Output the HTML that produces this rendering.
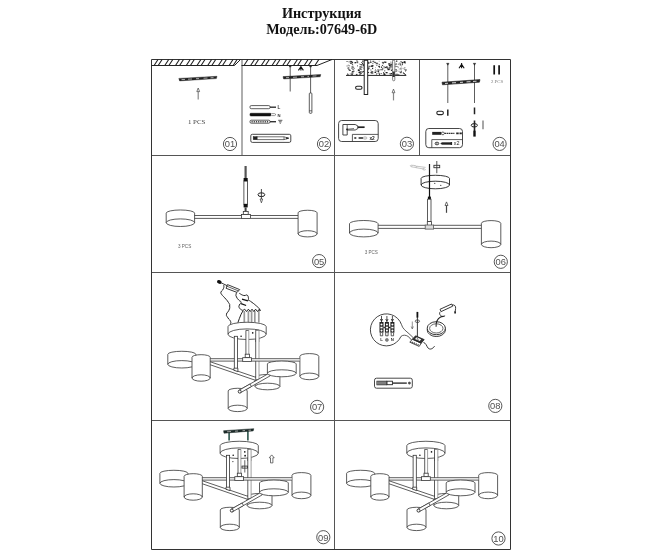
<!DOCTYPE html>
<html><head><meta charset="utf-8">
<style>
html,body{margin:0;padding:0;background:#fff;}
body{width:660px;height:550px;overflow:hidden;position:relative;font-family:"Liberation Serif",serif;}
.t{position:absolute;left:0;width:660px;text-align:center;font-weight:bold;font-size:14.2px;color:#111;line-height:16px;filter:grayscale(1);}
svg{position:absolute;left:0;top:0;}
svg text{filter:grayscale(1);}
</style></head><body>
<div class="t" style="top:5.1px;left:-8.3px">Инструкция</div>
<div class="t" style="top:21.4px;left:-8.3px">Модель:07649-6D</div>
<svg width="660" height="550" viewBox="0 0 660 550" fill="none" stroke="#222" stroke-width="1" font-family="Liberation Sans, sans-serif">
<!-- FRAME -->
<g id="frame" stroke="#333" stroke-width="1">
<path d="M242 60V155" stroke="#aaa" stroke-width="1.9"/>
<path d="M151.5 155.5H510.5M151.5 272.5H510.5M151.5 420.5H510.5M334.5 59.5V549.5M419.5 59.5V155.5" stroke="#555"/>
<path d="M151.5 59.5H510.5V549.5H151.5Z"/>
</g>
<g id="c1"><path d="M151.5 65.5H234.5L240.5 59.5" stroke="#222"/><path d="M154.1 65.5L158.0 59.5M158.2 65.5L162.1 59.5M164.8 65.5L168.7 59.5M168.9 65.5L172.8 59.5M175.5 65.5L179.4 59.5M179.6 65.5L183.5 59.5M186.3 65.5L190.2 59.5M190.4 65.5L194.3 59.5M197.0 65.5L200.9 59.5M201.1 65.5L205.0 59.5M207.7 65.5L211.6 59.5M211.8 65.5L215.7 59.5M218.4 65.5L222.3 59.5M222.5 65.5L226.4 59.5M229.1 65.5L233.0 59.5M233.2 65.5L237.1 59.5" stroke="#222" stroke-width="1.1"/><path d="M178.8 78.4L217 76.3L216.4 78.6L179.6 80.9Z" fill="#222" stroke="#222" stroke-width="0.4"/><path d="M181.5 79.6L185 79.4M188 79.2L192 79M196 78.7L199 78.6M203.5 78.2L207.5 78M210.5 77.8L213.5 77.6" stroke="#ccc" stroke-width="0.8"/><path d="M198.2 91.6V99.6" stroke="#888" stroke-width="1.2"/><path d="M198.2 88L199.6 91.6H196.79999999999998Z" stroke="#444" stroke-width="0.7" fill="#fff" stroke-linejoin="round"/><text x="196.6" y="123.7" text-anchor="middle" font-family="Liberation Serif, serif" font-size="6.9" fill="#444" stroke="none">1 PCS</text><circle cx="230" cy="144" r="6.6" stroke="#444" stroke-width="0.9"/><text x="230" y="147.4" text-anchor="middle" font-size="9.7" fill="#505050" stroke="none" textLength="10.4" lengthAdjust="spacingAndGlyphs">01</text></g>
<g id="c2"><path d="M241.5 65.5H317L332 59.5" stroke="#222"/><path d="M244.0 65.5L247.9 59.5M250.6 65.5L254.5 59.5M254.7 65.5L258.6 59.5M261.3 65.5L265.2 59.5M265.4 65.5L269.3 59.5M272.0 65.5L275.9 59.5M276.1 65.5L280.0 59.5M282.7 65.5L286.6 59.5M286.8 65.5L290.7 59.5M293.5 65.5L297.4 59.5M297.6 65.5L301.5 59.5M304.2 65.5L308.1 59.5M308.3 65.5L312.2 59.5M314.9 65.5L318.8 59.5" stroke="#222" stroke-width="1.1"/><path d="M290.2 66V91.5M310.6 66V93" stroke="#333" stroke-width="0.8"/><path d="M289.2 66.8H291.2L290.2 65.6ZM309.6 66.8H311.6L310.6 65.6Z" fill="#222" stroke="#222" stroke-width="0.6"/><path d="M300.9 65.8V70.4M300.9 66.8L298.4 70.4M300.9 66.8L303.4 70.4" stroke="#111" stroke-width="1.1"/><path d="M283 76.6L320.8 74.5L320.2 76.8L283.6 79Z" fill="#222" stroke="#222" stroke-width="0.4"/><path d="M286 77.7L289 77.5M293 77.3L297 77.1M301 76.8L304 76.7M307.5 76.4L309 76.3M312.5 76.1L316.5 75.9" stroke="#ccc" stroke-width="0.8"/><rect x="309.3" y="93" width="2.6" height="20.3" rx="0.8" fill="#fff" stroke="#333" stroke-width="0.8"/><path d="M309.3 110.8H311.9" stroke="#333" stroke-width="0.7"/><rect x="250" y="105.6" width="20" height="3.1" rx="1.2" fill="#fff" stroke="#333" stroke-width="0.8"/><path d="M270 107.2H276" stroke="#333" stroke-width="1.4"/><text x="277.4" y="109.2" font-size="4.6" font-weight="bold" fill="#333" stroke="none">L</text><rect x="250" y="113.3" width="21" height="2.6" rx="0.8" fill="#111" stroke="#111" stroke-width="0.6"/><path d="M271.3 113.6H274.5L276 114.6L274.5 115.6H271.3" stroke="#555" stroke-width="0.6" fill="#fff"/><text x="277.4" y="116.6" font-size="4.2" font-weight="bold" fill="#333" stroke="none">N</text><rect x="250" y="120.2" width="20" height="3" rx="1.2" fill="#fff" stroke="#333" stroke-width="0.8"/><path d="M251.5 121.7H269" stroke="#444" stroke-width="1.6" stroke-dasharray="1.2 1"/><path d="M270 121.7H276" stroke="#333" stroke-width="1.4"/><path d="M278.2 120.3H282.4M278.9 121.8H281.7M279.7 123.2H280.9" stroke="#333" stroke-width="0.8"/><rect x="250.8" y="134.3" width="40" height="8.1" rx="1.5" fill="#fff" stroke="#333" stroke-width="0.9"/><path d="M257 136.8H284L288.6 138.2L284 139.6H257Z" fill="#fff" stroke="#333" stroke-width="0.7"/><rect x="253.2" y="136.7" width="3.8" height="3" fill="#222" stroke="#222" stroke-width="0.5"/><path d="M284 136.8V139.6M286.5 137.5L288.6 138.2L286.5 138.9Z" stroke="#222" stroke-width="0.6" fill="#222"/><circle cx="324" cy="144" r="6.6" stroke="#444" stroke-width="0.9"/><text x="324" y="147.4" text-anchor="middle" font-size="9.7" fill="#505050" stroke="none" textLength="10.4" lengthAdjust="spacingAndGlyphs">02</text></g>
<g id="c3"><rect x="365.6" y="62.6" width="0.7" height="0.6" fill="#222" stroke="none"/><rect x="352.1" y="68.7" width="2.0" height="0.8" fill="#222" stroke="none"/><rect x="351.6" y="66.4" width="0.9" height="0.6" fill="#222" stroke="none"/><rect x="371.5" y="72.2" width="0.7" height="0.8" fill="#888" stroke="none"/><rect x="383.5" y="73.9" width="2.0" height="1.3" fill="#222" stroke="none"/><rect x="404.1" y="61.2" width="0.9" height="1.0" fill="#666" stroke="none"/><rect x="355.0" y="62.2" width="1.2" height="0.8" fill="#222" stroke="none"/><rect x="380.8" y="69.5" width="1.2" height="0.6" fill="#222" stroke="none"/><rect x="388.5" y="68.5" width="2.0" height="0.8" fill="#666" stroke="none"/><rect x="386.6" y="66.5" width="1.2" height="1.3" fill="#222" stroke="none"/><rect x="401.0" y="65.6" width="0.9" height="0.8" fill="#888" stroke="none"/><rect x="392.5" y="61.7" width="1.2" height="1.3" fill="#444" stroke="none"/><rect x="389.5" y="64.6" width="0.7" height="0.6" fill="#222" stroke="none"/><rect x="371.2" y="71.2" width="0.9" height="1.3" fill="#666" stroke="none"/><rect x="348.8" y="69.9" width="2.0" height="1.0" fill="#444" stroke="none"/><rect x="387.5" y="68.9" width="2.0" height="1.3" fill="#222" stroke="none"/><rect x="396.1" y="73.8" width="1.6" height="0.6" fill="#222" stroke="none"/><rect x="389.6" y="64.9" width="2.0" height="1.3" fill="#444" stroke="none"/><rect x="388.8" y="73.0" width="1.2" height="0.6" fill="#666" stroke="none"/><rect x="367.5" y="69.1" width="1.6" height="0.6" fill="#333" stroke="none"/><rect x="391.8" y="62.3" width="0.9" height="1.3" fill="#666" stroke="none"/><rect x="400.6" y="67.5" width="0.9" height="1.3" fill="#666" stroke="none"/><rect x="378.9" y="73.0" width="1.6" height="1.0" fill="#888" stroke="none"/><rect x="371.0" y="65.6" width="1.6" height="0.8" fill="#333" stroke="none"/><rect x="351.4" y="62.6" width="0.9" height="0.6" fill="#666" stroke="none"/><rect x="395.5" y="63.1" width="1.2" height="0.6" fill="#333" stroke="none"/><rect x="371.2" y="65.7" width="2.0" height="1.0" fill="#333" stroke="none"/><rect x="387.2" y="67.8" width="2.0" height="0.6" fill="#666" stroke="none"/><rect x="399.6" y="71.5" width="2.0" height="1.3" fill="#666" stroke="none"/><rect x="370.0" y="62.0" width="1.6" height="0.6" fill="#333" stroke="none"/><rect x="350.5" y="63.4" width="0.9" height="0.6" fill="#444" stroke="none"/><rect x="381.9" y="61.9" width="2.0" height="0.8" fill="#222" stroke="none"/><rect x="352.5" y="65.6" width="0.7" height="0.6" fill="#333" stroke="none"/><rect x="382.7" y="62.6" width="1.2" height="1.0" fill="#222" stroke="none"/><rect x="368.0" y="62.2" width="1.6" height="1.3" fill="#666" stroke="none"/><rect x="375.0" y="61.7" width="0.7" height="1.0" fill="#888" stroke="none"/><rect x="362.1" y="72.2" width="0.9" height="0.6" fill="#333" stroke="none"/><rect x="402.6" y="67.9" width="0.9" height="0.6" fill="#222" stroke="none"/><rect x="364.1" y="69.6" width="0.7" height="1.0" fill="#222" stroke="none"/><rect x="368.1" y="62.9" width="0.9" height="1.0" fill="#888" stroke="none"/><rect x="359.7" y="71.9" width="0.9" height="0.8" fill="#666" stroke="none"/><rect x="390.2" y="63.7" width="2.0" height="1.3" fill="#444" stroke="none"/><rect x="389.6" y="74.5" width="1.2" height="1.3" fill="#444" stroke="none"/><rect x="357.9" y="69.0" width="1.2" height="1.3" fill="#888" stroke="none"/><rect x="404.8" y="74.0" width="1.2" height="0.6" fill="#333" stroke="none"/><rect x="352.5" y="67.1" width="1.2" height="0.8" fill="#666" stroke="none"/><rect x="383.3" y="73.2" width="0.7" height="1.3" fill="#888" stroke="none"/><rect x="366.8" y="69.6" width="0.7" height="1.3" fill="#888" stroke="none"/><rect x="390.8" y="67.2" width="0.9" height="1.3" fill="#888" stroke="none"/><rect x="366.1" y="71.8" width="1.6" height="1.3" fill="#666" stroke="none"/><rect x="390.4" y="61.7" width="0.9" height="0.8" fill="#333" stroke="none"/><rect x="348.1" y="68.8" width="1.6" height="0.8" fill="#222" stroke="none"/><rect x="395.3" y="74.3" width="1.2" height="0.8" fill="#222" stroke="none"/><rect x="378.8" y="60.8" width="0.7" height="0.8" fill="#666" stroke="none"/><rect x="404.7" y="63.2" width="0.9" height="0.6" fill="#444" stroke="none"/><rect x="359.1" y="67.6" width="2.0" height="1.0" fill="#444" stroke="none"/><rect x="378.6" y="72.3" width="0.7" height="1.0" fill="#666" stroke="none"/><rect x="385.6" y="72.0" width="2.0" height="1.3" fill="#222" stroke="none"/><rect x="354.2" y="62.6" width="2.0" height="0.6" fill="#666" stroke="none"/><rect x="392.3" y="69.1" width="0.9" height="0.8" fill="#333" stroke="none"/><rect x="374.4" y="70.7" width="2.0" height="0.6" fill="#444" stroke="none"/><rect x="386.8" y="68.0" width="1.6" height="0.6" fill="#222" stroke="none"/><rect x="349.9" y="63.2" width="0.7" height="0.6" fill="#222" stroke="none"/><rect x="373.2" y="60.9" width="0.7" height="1.3" fill="#444" stroke="none"/><rect x="382.6" y="67.6" width="2.0" height="0.8" fill="#888" stroke="none"/><rect x="362.9" y="67.7" width="1.6" height="0.8" fill="#888" stroke="none"/><rect x="377.4" y="72.9" width="1.2" height="0.8" fill="#666" stroke="none"/><rect x="354.6" y="62.2" width="1.6" height="1.0" fill="#222" stroke="none"/><rect x="386.1" y="66.5" width="0.9" height="1.0" fill="#222" stroke="none"/><rect x="399.4" y="62.7" width="1.2" height="0.8" fill="#444" stroke="none"/><rect x="398.6" y="74.1" width="0.9" height="0.6" fill="#666" stroke="none"/><rect x="398.7" y="62.8" width="0.9" height="0.8" fill="#888" stroke="none"/><rect x="372.0" y="67.8" width="1.2" height="1.3" fill="#333" stroke="none"/><rect x="367.5" y="61.8" width="1.2" height="0.6" fill="#444" stroke="none"/><rect x="379.2" y="66.7" width="0.7" height="1.3" fill="#444" stroke="none"/><rect x="377.0" y="64.7" width="0.7" height="0.6" fill="#333" stroke="none"/><rect x="403.8" y="62.0" width="1.2" height="1.0" fill="#222" stroke="none"/><rect x="399.9" y="63.1" width="0.9" height="1.3" fill="#888" stroke="none"/><rect x="394.8" y="64.1" width="0.9" height="1.3" fill="#888" stroke="none"/><rect x="365.8" y="64.4" width="0.9" height="1.3" fill="#222" stroke="none"/><rect x="362.4" y="60.7" width="0.7" height="1.0" fill="#222" stroke="none"/><rect x="382.4" y="63.6" width="1.2" height="0.6" fill="#666" stroke="none"/><rect x="347.2" y="74.5" width="1.6" height="1.0" fill="#222" stroke="none"/><rect x="354.1" y="67.9" width="0.9" height="0.6" fill="#333" stroke="none"/><rect x="362.0" y="63.1" width="1.2" height="1.0" fill="#222" stroke="none"/><rect x="391.3" y="64.6" width="2.0" height="0.8" fill="#444" stroke="none"/><rect x="367.0" y="60.8" width="1.2" height="0.6" fill="#222" stroke="none"/><rect x="347.6" y="67.6" width="0.9" height="1.3" fill="#333" stroke="none"/><rect x="401.6" y="62.0" width="1.6" height="1.3" fill="#222" stroke="none"/><rect x="395.7" y="66.0" width="2.0" height="1.0" fill="#888" stroke="none"/><rect x="359.2" y="63.7" width="0.9" height="0.8" fill="#666" stroke="none"/><rect x="404.9" y="74.3" width="0.9" height="0.6" fill="#222" stroke="none"/><rect x="383.4" y="72.9" width="1.6" height="0.8" fill="#222" stroke="none"/><rect x="351.5" y="72.4" width="2.0" height="1.0" fill="#222" stroke="none"/><rect x="360.8" y="64.6" width="1.6" height="0.8" fill="#333" stroke="none"/><rect x="362.4" y="60.6" width="1.2" height="1.0" fill="#222" stroke="none"/><rect x="365.6" y="61.0" width="1.2" height="0.8" fill="#444" stroke="none"/><rect x="357.3" y="65.2" width="0.7" height="1.3" fill="#444" stroke="none"/><rect x="376.2" y="63.3" width="2.0" height="0.6" fill="#222" stroke="none"/><rect x="362.1" y="61.8" width="1.6" height="0.6" fill="#666" stroke="none"/><rect x="347.8" y="64.8" width="0.9" height="0.6" fill="#222" stroke="none"/><rect x="403.0" y="72.5" width="0.9" height="1.3" fill="#444" stroke="none"/><rect x="389.0" y="67.5" width="1.2" height="0.8" fill="#222" stroke="none"/><rect x="395.2" y="70.6" width="2.0" height="1.3" fill="#888" stroke="none"/><rect x="387.9" y="67.6" width="2.0" height="0.6" fill="#888" stroke="none"/><rect x="381.0" y="73.1" width="0.9" height="0.6" fill="#222" stroke="none"/><rect x="349.0" y="69.5" width="0.7" height="1.3" fill="#666" stroke="none"/><rect x="379.5" y="69.4" width="2.0" height="0.8" fill="#666" stroke="none"/><rect x="362.1" y="66.9" width="0.7" height="0.6" fill="#888" stroke="none"/><rect x="377.5" y="71.0" width="1.6" height="1.0" fill="#222" stroke="none"/><rect x="396.4" y="63.8" width="0.9" height="0.8" fill="#888" stroke="none"/><rect x="384.8" y="67.0" width="1.6" height="0.6" fill="#666" stroke="none"/><rect x="400.2" y="64.6" width="0.7" height="0.8" fill="#222" stroke="none"/><rect x="381.9" y="65.2" width="1.2" height="0.8" fill="#222" stroke="none"/><rect x="375.0" y="67.3" width="0.7" height="0.8" fill="#888" stroke="none"/><rect x="375.4" y="70.5" width="1.2" height="1.3" fill="#666" stroke="none"/><rect x="374.0" y="62.2" width="2.0" height="0.8" fill="#444" stroke="none"/><rect x="404.2" y="73.7" width="0.7" height="1.0" fill="#666" stroke="none"/><rect x="351.0" y="67.6" width="1.6" height="1.0" fill="#666" stroke="none"/><rect x="358.9" y="73.8" width="0.9" height="0.6" fill="#222" stroke="none"/><rect x="351.8" y="71.0" width="1.2" height="1.0" fill="#333" stroke="none"/><rect x="382.1" y="69.4" width="1.2" height="0.6" fill="#888" stroke="none"/><rect x="368.0" y="67.5" width="1.6" height="1.3" fill="#222" stroke="none"/><rect x="355.9" y="73.9" width="1.6" height="1.3" fill="#444" stroke="none"/><rect x="389.4" y="66.4" width="1.6" height="1.0" fill="#222" stroke="none"/><rect x="396.1" y="60.5" width="1.2" height="1.3" fill="#222" stroke="none"/><rect x="402.0" y="63.3" width="0.7" height="1.0" fill="#444" stroke="none"/><rect x="368.5" y="66.0" width="2.0" height="0.6" fill="#444" stroke="none"/><rect x="401.1" y="71.2" width="0.7" height="1.0" fill="#222" stroke="none"/><rect x="349.5" y="69.8" width="0.9" height="0.8" fill="#444" stroke="none"/><rect x="372.2" y="64.9" width="1.2" height="1.3" fill="#222" stroke="none"/><rect x="394.4" y="69.4" width="2.0" height="0.8" fill="#888" stroke="none"/><rect x="351.3" y="73.7" width="1.6" height="1.3" fill="#222" stroke="none"/><rect x="390.9" y="69.6" width="1.2" height="1.3" fill="#222" stroke="none"/><rect x="400.3" y="68.3" width="0.9" height="1.3" fill="#666" stroke="none"/><rect x="366.8" y="64.7" width="1.2" height="1.3" fill="#888" stroke="none"/><rect x="360.6" y="67.3" width="1.6" height="0.6" fill="#333" stroke="none"/><rect x="384.4" y="61.6" width="2.0" height="1.3" fill="#222" stroke="none"/><rect x="359.5" y="73.3" width="1.6" height="1.3" fill="#333" stroke="none"/><rect x="378.8" y="63.9" width="0.9" height="1.0" fill="#222" stroke="none"/><rect x="351.9" y="63.9" width="1.2" height="0.8" fill="#222" stroke="none"/><rect x="390.7" y="66.3" width="1.6" height="0.8" fill="#666" stroke="none"/><rect x="362.4" y="71.1" width="1.6" height="1.0" fill="#222" stroke="none"/><rect x="403.6" y="62.3" width="2.0" height="0.8" fill="#222" stroke="none"/><rect x="362.5" y="64.0" width="1.6" height="1.3" fill="#666" stroke="none"/><rect x="402.8" y="72.5" width="0.7" height="0.8" fill="#222" stroke="none"/><rect x="371.6" y="71.3" width="1.6" height="1.3" fill="#222" stroke="none"/><rect x="350.8" y="73.6" width="2.0" height="1.3" fill="#666" stroke="none"/><rect x="361.2" y="62.0" width="0.9" height="0.8" fill="#222" stroke="none"/><rect x="403.8" y="62.0" width="1.6" height="0.6" fill="#222" stroke="none"/><rect x="392.3" y="60.5" width="0.9" height="0.8" fill="#222" stroke="none"/><rect x="400.8" y="69.6" width="1.2" height="0.8" fill="#888" stroke="none"/><rect x="361.4" y="69.5" width="0.7" height="0.6" fill="#222" stroke="none"/><rect x="364.2" y="73.8" width="0.9" height="1.3" fill="#444" stroke="none"/><rect x="359.7" y="69.0" width="0.7" height="1.0" fill="#666" stroke="none"/><rect x="362.9" y="65.0" width="0.9" height="1.3" fill="#222" stroke="none"/><rect x="360.4" y="64.0" width="1.6" height="1.0" fill="#222" stroke="none"/><rect x="347.8" y="67.5" width="1.6" height="0.6" fill="#444" stroke="none"/><rect x="359.9" y="66.5" width="1.2" height="0.8" fill="#666" stroke="none"/><rect x="348.5" y="65.3" width="1.6" height="1.0" fill="#888" stroke="none"/><rect x="369.9" y="60.6" width="1.2" height="0.6" fill="#333" stroke="none"/><rect x="375.7" y="63.3" width="0.9" height="0.8" fill="#666" stroke="none"/><rect x="359.6" y="71.2" width="1.2" height="0.6" fill="#222" stroke="none"/><rect x="375.8" y="63.1" width="0.9" height="1.3" fill="#666" stroke="none"/><rect x="400.2" y="61.3" width="2.0" height="0.8" fill="#666" stroke="none"/><rect x="349.7" y="60.8" width="2.0" height="0.8" fill="#666" stroke="none"/><rect x="349.6" y="61.3" width="1.6" height="1.3" fill="#888" stroke="none"/><rect x="398.6" y="70.8" width="0.7" height="0.8" fill="#444" stroke="none"/><rect x="357.8" y="69.7" width="2.0" height="1.3" fill="#222" stroke="none"/><rect x="364.9" y="70.7" width="1.2" height="1.0" fill="#666" stroke="none"/><rect x="356.5" y="60.5" width="1.2" height="0.6" fill="#444" stroke="none"/><rect x="371.3" y="73.0" width="2.0" height="0.8" fill="#666" stroke="none"/><rect x="367.5" y="72.1" width="1.6" height="0.6" fill="#222" stroke="none"/><rect x="388.1" y="63.3" width="2.0" height="1.3" fill="#333" stroke="none"/><rect x="365.6" y="70.9" width="1.6" height="0.6" fill="#888" stroke="none"/><rect x="370.7" y="71.9" width="1.6" height="0.6" fill="#666" stroke="none"/><rect x="348.6" y="61.4" width="0.7" height="1.0" fill="#333" stroke="none"/><rect x="390.6" y="73.2" width="1.2" height="1.0" fill="#444" stroke="none"/><rect x="366.3" y="73.9" width="0.7" height="1.0" fill="#888" stroke="none"/><rect x="388.8" y="65.0" width="1.2" height="1.0" fill="#222" stroke="none"/><rect x="389.1" y="68.9" width="0.7" height="0.6" fill="#333" stroke="none"/><rect x="352.8" y="70.6" width="1.6" height="1.3" fill="#444" stroke="none"/><rect x="400.4" y="72.0" width="0.9" height="1.3" fill="#333" stroke="none"/><rect x="347.0" y="73.6" width="1.2" height="0.8" fill="#222" stroke="none"/><rect x="360.4" y="72.6" width="1.6" height="1.0" fill="#222" stroke="none"/><rect x="351.2" y="63.3" width="0.9" height="0.8" fill="#666" stroke="none"/><rect x="350.3" y="61.0" width="2.0" height="1.0" fill="#333" stroke="none"/><rect x="404.3" y="73.0" width="0.7" height="1.0" fill="#222" stroke="none"/><rect x="351.5" y="61.9" width="1.6" height="1.3" fill="#333" stroke="none"/><rect x="360.3" y="66.4" width="2.0" height="0.8" fill="#888" stroke="none"/><rect x="378.3" y="71.4" width="0.7" height="1.0" fill="#444" stroke="none"/><rect x="363.0" y="64.3" width="1.2" height="1.0" fill="#333" stroke="none"/><rect x="372.4" y="63.1" width="0.9" height="0.8" fill="#444" stroke="none"/><rect x="398.7" y="68.7" width="1.2" height="0.6" fill="#666" stroke="none"/><rect x="361.3" y="64.0" width="2.0" height="0.8" fill="#888" stroke="none"/><rect x="394.2" y="69.7" width="0.7" height="0.6" fill="#222" stroke="none"/><rect x="374.5" y="72.0" width="1.6" height="1.0" fill="#222" stroke="none"/><rect x="398.2" y="63.8" width="0.7" height="0.8" fill="#222" stroke="none"/><rect x="403.9" y="68.7" width="0.7" height="1.0" fill="#222" stroke="none"/><rect x="397.6" y="66.8" width="1.2" height="0.6" fill="#222" stroke="none"/><rect x="384.1" y="70.5" width="1.2" height="0.8" fill="#222" stroke="none"/><rect x="368.3" y="62.5" width="0.9" height="1.0" fill="#222" stroke="none"/><rect x="381.9" y="69.7" width="0.9" height="0.6" fill="#444" stroke="none"/><rect x="370.6" y="65.7" width="2.0" height="1.0" fill="#222" stroke="none"/><rect x="358.5" y="71.7" width="2.0" height="1.3" fill="#222" stroke="none"/><rect x="370.6" y="71.7" width="2.0" height="0.8" fill="#888" stroke="none"/><rect x="378.0" y="69.7" width="1.6" height="1.0" fill="#666" stroke="none"/><rect x="404.8" y="69.9" width="1.6" height="0.6" fill="#444" stroke="none"/><rect x="390.5" y="73.0" width="1.6" height="1.3" fill="#222" stroke="none"/><rect x="397.5" y="74.6" width="1.2" height="0.8" fill="#666" stroke="none"/><rect x="389.5" y="63.4" width="0.7" height="1.3" fill="#333" stroke="none"/><rect x="371.5" y="72.1" width="1.6" height="1.0" fill="#666" stroke="none"/><rect x="392.1" y="62.3" width="0.7" height="0.8" fill="#888" stroke="none"/><rect x="394.1" y="66.1" width="2.0" height="1.0" fill="#888" stroke="none"/><rect x="376.3" y="62.6" width="1.2" height="0.8" fill="#222" stroke="none"/><rect x="356.6" y="61.4" width="1.6" height="1.3" fill="#333" stroke="none"/><rect x="364.3" y="72.3" width="0.7" height="1.3" fill="#444" stroke="none"/><rect x="349.6" y="73.6" width="1.6" height="0.6" fill="#888" stroke="none"/><rect x="383.1" y="72.1" width="0.9" height="0.8" fill="#222" stroke="none"/><rect x="370.4" y="72.4" width="1.6" height="0.8" fill="#222" stroke="none"/><rect x="359.4" y="66.1" width="2.0" height="0.8" fill="#666" stroke="none"/><rect x="367.7" y="62.6" width="0.9" height="0.6" fill="#222" stroke="none"/><rect x="396.2" y="70.0" width="1.2" height="0.6" fill="#666" stroke="none"/><rect x="381.9" y="68.3" width="1.2" height="1.3" fill="#444" stroke="none"/><rect x="380.9" y="66.5" width="1.2" height="1.3" fill="#222" stroke="none"/><rect x="372.4" y="60.8" width="2.0" height="1.3" fill="#666" stroke="none"/><rect x="360.4" y="71.3" width="1.6" height="0.8" fill="#666" stroke="none"/><rect x="370.1" y="61.4" width="1.2" height="1.3" fill="#444" stroke="none"/><rect x="351.9" y="66.7" width="2.0" height="0.6" fill="#222" stroke="none"/><rect x="384.0" y="61.7" width="1.2" height="0.6" fill="#222" stroke="none"/><rect x="390.9" y="73.1" width="0.9" height="0.6" fill="#222" stroke="none"/><rect x="405.3" y="70.8" width="0.7" height="0.8" fill="#333" stroke="none"/><rect x="404.4" y="67.4" width="0.9" height="0.8" fill="#222" stroke="none"/><rect x="395.6" y="69.1" width="1.2" height="0.8" fill="#444" stroke="none"/><rect x="399.4" y="64.4" width="1.6" height="0.8" fill="#444" stroke="none"/><rect x="376.1" y="73.5" width="0.9" height="1.0" fill="#222" stroke="none"/><rect x="376.4" y="65.0" width="0.7" height="0.8" fill="#333" stroke="none"/><rect x="370.3" y="69.5" width="1.2" height="1.0" fill="#666" stroke="none"/><rect x="356.5" y="71.6" width="0.7" height="0.6" fill="#888" stroke="none"/><rect x="397.1" y="74.1" width="1.6" height="0.6" fill="#444" stroke="none"/><rect x="405.1" y="69.4" width="1.6" height="1.0" fill="#444" stroke="none"/><rect x="368.7" y="65.7" width="0.9" height="1.0" fill="#444" stroke="none"/><rect x="391.6" y="66.7" width="0.9" height="0.6" fill="#444" stroke="none"/><rect x="394.9" y="64.1" width="2.0" height="1.0" fill="#888" stroke="none"/><rect x="346.6" y="61.0" width="0.9" height="1.0" fill="#222" stroke="none"/><rect x="383.4" y="66.4" width="1.2" height="0.6" fill="#333" stroke="none"/><rect x="375.3" y="69.1" width="0.7" height="0.6" fill="#222" stroke="none"/><rect x="346.7" y="65.5" width="0.7" height="1.0" fill="#222" stroke="none"/><rect x="359.7" y="68.7" width="2.0" height="0.8" fill="#333" stroke="none"/><rect x="368.1" y="72.2" width="0.9" height="0.8" fill="#222" stroke="none"/><rect x="401.8" y="63.9" width="0.9" height="1.3" fill="#222" stroke="none"/><rect x="350.3" y="62.5" width="1.2" height="1.3" fill="#444" stroke="none"/><rect x="403.6" y="61.3" width="2.0" height="1.0" fill="#222" stroke="none"/><rect x="384.6" y="66.8" width="2.0" height="1.3" fill="#333" stroke="none"/><rect x="356.2" y="60.5" width="0.7" height="0.6" fill="#666" stroke="none"/><rect x="357.5" y="62.7" width="0.7" height="0.6" fill="#222" stroke="none"/><rect x="379.0" y="73.8" width="0.9" height="1.3" fill="#333" stroke="none"/><rect x="377.1" y="69.6" width="1.6" height="0.8" fill="#222" stroke="none"/><rect x="364.8" y="64.7" width="0.7" height="1.3" fill="#888" stroke="none"/><rect x="378.3" y="65.8" width="1.6" height="1.3" fill="#222" stroke="none"/><path d="M346 75.4H406.3" stroke="#222" stroke-width="1"/><rect x="364.2" y="60.3" width="3.5" height="34.2" fill="#fff" stroke="#222" stroke-width="1"/><rect x="355.6" y="86.3" width="6.4" height="3" rx="1.5" fill="#fff" stroke="#222" stroke-width="1.1"/><rect x="392.6" y="60.3" width="2.2" height="20.5" rx="1" fill="#fff" stroke="#555" stroke-width="0.7"/><rect x="392.6" y="71.5" width="2.2" height="5.5" fill="#333" stroke="none"/><path d="M393.5 92.69999999999999V100.4" stroke="#888" stroke-width="1.2"/><path d="M393.5 89.1L394.9 92.69999999999999H392.1Z" stroke="#444" stroke-width="0.7" fill="#fff" stroke-linejoin="round"/><rect x="338.6" y="120.5" width="39.6" height="21" rx="3" fill="#fff" stroke="#333" stroke-width="0.9"/><path d="M352.4 141.5V134.4H378.2" stroke="#333" stroke-width="0.8"/><path d="M342.9 124.5H355.2L357.8 125.9V128.6L355.2 130H347.2V135H342.9Z" fill="#fff" stroke="#333" stroke-width="0.9"/><path d="M347.2 124.5V130M346.4 129.4L354 128.6" stroke="#444" stroke-width="0.8"/><rect x="346.3" y="128.6" width="1.6" height="1.6" fill="#222" stroke="none"/><path d="M357.8 127.2H364.6" stroke="#222" stroke-width="1.7"/><path d="M354.3 138H356.3M358.6 138H363" stroke="#222" stroke-width="1.7"/><rect x="363.2" y="136.8" width="3.6" height="2.4" rx="1" fill="#ddd" stroke="#999" stroke-width="0.5"/><text x="369.4" y="139.8" font-size="4.8" font-weight="bold" fill="#222" stroke="none">x2</text><circle cx="406.9" cy="143.8" r="6.6" stroke="#444" stroke-width="0.9"/><text x="406.9" y="147.20000000000002" text-anchor="middle" font-size="9.7" fill="#505050" stroke="none" textLength="10.4" lengthAdjust="spacingAndGlyphs">03</text></g>
<g id="c4"><path d="M447.8 64V103M474.5 64V103" stroke="#333" stroke-width="0.8"/><path d="M446.6 63.3H449L447.8 65.2ZM473.3 63.3H475.7L474.5 65.2Z" fill="#222" stroke="#222" stroke-width="0.5"/><path d="M461.6 63V68.2M461.6 64.4L459 68.2M461.6 64.4L464.2 68.2" stroke="#111" stroke-width="1.1"/><path d="M442 82.2L480 79.6L479.4 82.2L442.5 84.8Z" fill="#222" stroke="#222" stroke-width="0.6"/><path d="M445 83.4L448 83.2M452 82.9L456 82.7M460 82.4L463 82.2M466.5 81.9L470.5 81.7M473 81.4L476.5 81.2" stroke="#ddd" stroke-width="1.0"/><path d="M494.2 65.3V74.4M499.1 65.3V74.4" stroke="#111" stroke-width="1.7"/><text x="497" y="82.8" text-anchor="middle" font-family="Liberation Serif, serif" font-size="4.8" fill="#777" stroke="none">2 PCS</text><path d="M447.8 109.5V115.7M474.5 107.5V114.3" stroke="#222" stroke-width="1.5"/><rect x="436.8" y="111.3" width="6.6" height="3.3" rx="1.6" fill="#fff" stroke="#222" stroke-width="1.1"/><path d="M474.5 120.5V131" stroke="#222" stroke-width="1.6"/><ellipse cx="474.3" cy="125.3" rx="3.1" ry="1.7" stroke="#222" stroke-width="1"/><path d="M474.5 130.7V136.6" stroke="#111" stroke-width="2.4"/><path d="M483 120.5V129.3" stroke="#888" stroke-width="1.5"/><rect x="425.8" y="128.5" width="36.7" height="19.2" rx="3" fill="#fff" stroke="#333" stroke-width="0.9"/><path d="M431.8 147.7V139.6H462.5" stroke="#333" stroke-width="0.8"/><rect x="432.2" y="131.9" width="9.1" height="2.9" fill="#222" stroke="none"/><path d="M441.3 133.35L442.2 132H443.5L444.4 133.35L443.5 134.7H442.2Z" fill="#fff" stroke="#222" stroke-width="0.7"/><path d="M444.4 133.35H454.4" stroke="#333" stroke-width="1.4" stroke-dasharray="1.7 0.5"/><path d="M456.2 133.35H458.7M459.5 133.35H461.8" stroke="#222" stroke-width="1.9"/><rect x="435.2" y="142.3" width="3.5" height="2.4" rx="1.1" fill="#fff" stroke="#222" stroke-width="0.9"/><path d="M436.9 142.3V144.7" stroke="#222" stroke-width="0.7"/><path d="M440.6 143.5L442 142.6H451V144.4H442Z" fill="#222" stroke="#222" stroke-width="0.4"/><path d="M451.4 142V145" stroke="#222" stroke-width="1.4"/><text x="453.8" y="145.1" font-size="5.4" fill="#222" stroke="none">x2</text><circle cx="499.6" cy="143.9" r="6.6" stroke="#444" stroke-width="0.9"/><text x="499.6" y="147.3" text-anchor="middle" font-size="9.7" fill="#505050" stroke="none" textLength="10.4" lengthAdjust="spacingAndGlyphs">04</text></g>
<g id="c5"><path d="M166.2 213.1A14.2 3.12 0 0 1 194.6 213.1V222.7A14.2 3.8 0 0 1 166.2 222.7Z" fill="#fff" stroke="#333" stroke-width="0.8"/><path d="M166.2 222.7A14.2 3.8 0 0 1 194.6 222.7" stroke="#333" stroke-width="0.8"/><path d="M194.5 215.5H241.5M194.5 218.4H241.5M250.5 215.5H298.2M250.5 218.4H298.2" stroke="#333" stroke-width="0.8"/><path d="M298.1 212.8A9.5 2.54 0 0 1 317.1 212.8V233.8A9.5 3.1 0 0 1 298.1 233.8Z" fill="#fff" stroke="#333" stroke-width="0.8"/><path d="M298.1 233.8A9.5 3.1 0 0 1 317.1 233.8" stroke="#333" stroke-width="0.8"/><path d="M245.6 166V178.2" stroke="#555" stroke-width="2.2"/><rect x="243.9" y="181" width="3.5" height="23.2" fill="#fff" stroke="#333" stroke-width="0.8"/><rect x="243.6" y="178" width="4.1" height="3.2" fill="#111" stroke="none"/><rect x="243.6" y="204" width="4.1" height="3.4" fill="#111" stroke="none"/><path d="M245.6 207.4V211.5" stroke="#444" stroke-width="2"/><rect x="243.3" y="211.5" width="4.9" height="3" fill="#fff" stroke="#333" stroke-width="0.8"/><rect x="241.4" y="214.5" width="9.1" height="3.9" fill="#fff" stroke="#333" stroke-width="0.8"/><path d="M261.4 189V199" stroke="#333" stroke-width="0.9"/><ellipse cx="261.4" cy="194.7" rx="3.4" ry="1.9" stroke="#222" stroke-width="1"/><path d="M260.1 199H262.7L261.4 202.8Z" fill="#fff" stroke="#333" stroke-width="0.7" stroke-linejoin="round"/><text x="184.6" y="247.8" text-anchor="middle" font-size="4.6" fill="#666" stroke="none">3 PCS</text><circle cx="319.1" cy="261.1" r="6.6" stroke="#444" stroke-width="0.9"/><text x="319.1" y="264.5" text-anchor="middle" font-size="9.7" fill="#505050" stroke="none" textLength="10.4" lengthAdjust="spacingAndGlyphs">05</text></g>
<g id="c6"><path d="M349.5 223.7A14.3 3.20 0 0 1 378.1 223.7V233.0A14.3 3.9 0 0 1 349.5 233.0Z" fill="#fff" stroke="#333" stroke-width="0.8"/><path d="M349.5 233.0A14.3 3.9 0 0 1 378.1 233.0" stroke="#333" stroke-width="0.8"/><path d="M378.2 225.3H425.3M378.2 228.4H425.3M433.6 225.3H481.4M433.6 228.4H481.4" stroke="#333" stroke-width="0.8"/><path d="M481.4 223.3A9.7 2.71 0 0 1 500.8 223.3V244.4A9.7 3.3 0 0 1 481.4 244.4Z" fill="#fff" stroke="#333" stroke-width="0.8"/><path d="M481.4 244.4A9.7 3.3 0 0 1 500.8 244.4" stroke="#333" stroke-width="0.8"/><path d="M421.1 178.4A14.2 3.12 0 0 1 449.5 178.4V185.0A14.2 3.8 0 0 1 421.1 185.0Z" fill="#fff" stroke="#222" stroke-width="0.9"/><path d="M421.1 185.0A14.2 3.8 0 0 1 449.5 185.0" stroke="#222" stroke-width="0.9"/><circle cx="434.8" cy="183.3" r="0.6" fill="#222" stroke="none"/><circle cx="440.8" cy="185.3" r="0.6" fill="#222" stroke="none"/><path d="M429.5 164V197" stroke="#111" stroke-width="1.2"/><rect x="427.9" y="196.6" width="3" height="2.6" fill="#111" stroke="none"/><rect x="427.6" y="199.2" width="3.4" height="22.4" fill="#fff" stroke="#333" stroke-width="0.8"/><rect x="427.3" y="221.6" width="4.2" height="3.8" fill="#fff" stroke="#333" stroke-width="0.8"/><rect x="425.2" y="225" width="8.4" height="4.1" fill="#ddd" stroke="#555" stroke-width="0.8"/><ellipse cx="413.6" cy="166.3" rx="3.4" ry="0.9" transform="rotate(8 413.6 166.3)" stroke="#aaa" stroke-width="0.7" fill="#fff"/><path d="M416.6 166.2L425.6 167.4M415.6 167.6L423.8 169M423 168L425.8 169.8M422.4 169.2L424.6 170.4" stroke="#aaa" stroke-width="0.7"/><path d="M436.8 161V173.2" stroke="#555" stroke-width="1"/><rect x="433.9" y="165.3" width="5.8" height="2.4" fill="none" stroke="#333" stroke-width="0.9"/><path d="M446.5 205.5V212.8" stroke="#444" stroke-width="1.2"/><path d="M446.5 201.9L448.0 205.5H445.0Z" stroke="#333" stroke-width="0.7" fill="#fff" stroke-linejoin="round"/><text x="371.3" y="253.8" text-anchor="middle" font-size="4.6" fill="#666" stroke="none">3 PCS</text><circle cx="500.8" cy="261.8" r="6.6" stroke="#444" stroke-width="0.9"/><text x="500.8" y="265.2" text-anchor="middle" font-size="9.7" fill="#505050" stroke="none" textLength="10.4" lengthAdjust="spacingAndGlyphs">06</text></g>
<g id="c7"><path d="M244.3 311V322.5M248.4 311V322.5M251.6 311V322.5M254.8 311V322.5M258.8 311V322.5" stroke="#999" stroke-width="1.7"/><path d="M223.8 285.1C223.7 286.3 224.3 286.4 223.4 288.7C222.5 291.0 221.7 290.1 221.1 291.9C220.5 293.7 220.3 292.2 221.5 294.2C222.7 296.2 222.4 295.1 224.7 297.8C227.0 300.5 226.7 299.7 228.4 302.4C230.1 305.1 229.6 303.3 229.7 306.0C229.8 308.7 229.9 307.8 228.8 310.5C227.7 313.2 226.8 311.8 226.5 314.2C226.2 316.6 226.5 315.4 227.9 317.8C229.3 320.2 229.8 319.4 230.6 321.5C231.4 323.6 230.3 323.3 230.2 324.2" stroke="#222" stroke-width="1" stroke-linejoin="round"/><path d="M237.0 292.4C236.7 293.0 236.3 292.7 236.1 294.2C235.9 295.7 235.6 294.9 236.5 296.9C237.4 298.9 237.3 298.3 238.8 300.1C240.3 301.9 240.9 300.7 241.1 302.4C241.3 304.1 239.8 303.1 239.3 305.1C238.8 307.1 238.5 306.5 239.7 308.3C240.9 310.1 241.8 309.8 242.9 310.5" stroke="#222" stroke-width="1" stroke-linejoin="round"/><path d="M242.9 311.0L241.1 314.2L239.3 318.7L237.9 322.6" stroke="#222" stroke-width="1" stroke-linejoin="round"/><path d="M239.3 293.3C240.7 294.0 241.5 295.0 243.8 295.5C246.1 296.0 245.6 294.4 247.0 295.1C248.4 295.8 248.0 296.3 248.4 297.8C248.8 299.3 248.1 299.3 248.4 300.1C248.7 300.9 248.2 299.8 249.3 300.5C250.4 301.2 249.8 300.8 252.0 302.4C254.2 304.0 254.3 304.1 256.5 306.0C258.7 307.9 258.2 307.2 259.3 308.7C260.4 310.2 259.9 310.3 260.2 311.0" stroke="#222" stroke-width="1" stroke-linejoin="round"/><path d="M242.9 310.5L244.7 309.2L246.5 311.5L248.4 309.2L250.2 311.5L252.0 309.2L253.8 311.5L255.6 309.2L257.5 311.5L259.3 309.2L260.2 311.0" stroke="#222" stroke-width="1" stroke-linejoin="round"/><path d="M242 299.2L247.9 300.9M241.1 303.7L246.1 305.5" stroke="#111" stroke-width="1.3"/><path d="M227.5 284.6L239.7 289.6L237 292.4L226.1 288.3Z" fill="#fff" stroke="#222" stroke-width="0.9" stroke-linejoin="round"/><path d="M226.6 286.1L238.4 290.9" stroke="#222" stroke-width="0.7"/><path d="M221.1 282.8L227 285.6" stroke="#222" stroke-width="0.9"/><ellipse cx="219.3" cy="281.9" rx="2.4" ry="1.8" fill="#111" stroke="none" transform="rotate(25 219.3 281.9)"/><g stroke="#333" stroke-width="0.8"><path d="M167.8 354.3A14.0 3.03 0 0 1 195.8 354.3V364.3A14.0 3.7 0 0 1 167.8 364.3Z" fill="#fff" /><path d="M167.8 364.3A14.0 3.7 0 0 1 195.8 364.3" /><path d="M299.9 356.3A9.45 2.71 0 0 1 318.8 356.3V376.4A9.45 3.3 0 0 1 299.9 376.4Z" fill="#fff" /><path d="M299.9 376.4A9.45 3.3 0 0 1 318.8 376.4" /><path d="M255.1 377.2A12.4 2.71 0 0 1 279.9 377.2V386.5A12.4 3.3 0 0 1 255.1 386.5Z" fill="#fff" /><path d="M255.1 386.5A12.4 3.3 0 0 1 279.9 386.5" /><path d="M208 361L257.2 377.8L256.3 380.6L208 364Z" fill="#fff"/><rect x="255.7" y="329.8" width="3.3" height="50" fill="#fff" stroke="none"/><path d="M255.7 329.8V379.8H259"/><path d="M259 329.8V379.8" stroke="#888"/><rect x="196" y="358.7" width="47" height="2.4" fill="#fff" stroke="none"/><rect x="251.5" y="358.7" width="48" height="2.4" fill="#fff" stroke="none"/><path d="M196 358.7H243M196 361.1H243M251.5 358.7H299.8M251.5 361.1H299.8"/><path d="M238.9 390.3L268.8 373.4L270.2 375.8L240.4 392.8Z" fill="#fff"/><path d="M267.4 363.9A14.4 2.87 0 0 1 296.2 363.9V373.3A14.4 3.5 0 0 1 267.4 373.3Z" fill="#fff" /><path d="M267.4 373.3A14.4 3.5 0 0 1 296.2 373.3" /><path d="M192.0 357.3A9.1 2.62 0 0 1 210.2 357.3V378.0A9.1 3.2 0 0 1 192.0 378.0Z" fill="#fff" /><path d="M192.0 378.0A9.1 3.2 0 0 1 210.2 378.0" /><path d="M228.0 326.6A19.1 4.35 0 0 1 266.2 326.6V334.2A19.1 5.3 0 0 1 228.0 334.2Z" fill="#fff" /><path d="M228.0 334.2A19.1 5.3 0 0 1 266.2 334.2" /><rect x="255.7" y="330" width="3.3" height="12" fill="#fff" stroke="none"/><path d="M255.7 342V330.2H259"/><path d="M259 330.2V342" stroke="#888"/><rect x="245.9" y="330.4" width="2.9" height="24" fill="#fff" stroke="none"/><path d="M245.9 354.4V330.4H248.8"/><path d="M248.8 330.4V354.4" stroke="#888"/><rect x="234.3" y="336.3" width="3.2" height="33.6" fill="#fff"/><path d="M233.9 368.2H237.9V371.6L233.9 370.3Z" fill="#fff"/><rect x="245.2" y="354.2" width="4.2" height="3.5" fill="#fff"/><rect x="242.7" y="357.7" width="8.8" height="3.7" fill="#fff"/><circle cx="241.1" cy="336.3" r="0.8" fill="#111" stroke="none"/><circle cx="252.7" cy="332.9" r="0.8" fill="#111" stroke="none"/><path d="M228.2 390.9A9.5 2.62 0 0 1 247.2 390.9V408.4A9.5 3.2 0 0 1 228.2 408.4Z" fill="#fff" /><path d="M228.2 408.4A9.5 3.2 0 0 1 247.2 408.4" /><path d="M238.9 390.3L250 384L251.4 386.5L240.4 392.8" fill="#fff"/><circle cx="239.7" cy="391.6" r="1.5" fill="#fff" stroke="#222" stroke-width="0.9"/></g><circle cx="317.1" cy="406.9" r="6.6" stroke="#444" stroke-width="0.9"/><text x="317.1" y="410.29999999999995" text-anchor="middle" font-size="9.7" fill="#505050" stroke="none" textLength="10.4" lengthAdjust="spacingAndGlyphs">07</text></g>
<g id="c8"><path d="M401.5 324.6A16 16 0 1 0 401 336.4" stroke="#333" stroke-width="0.9"/><path d="M381.5 316V322M380.3 319L381.5 321.2L382.7 319" stroke="#222" stroke-width="0.8"/><rect x="379.5" y="322" width="4" height="10.6" fill="#222" stroke="none"/><rect x="380.4" y="326.7" width="2.2" height="1.7" fill="#fff" stroke="none"/><circle cx="381.5" cy="324.5" r="1.05" fill="#fff" stroke="none"/><circle cx="381.5" cy="330.6" r="1.05" fill="#fff" stroke="none"/><path d="M380.3 332.6V335.8H382.7V332.6" fill="none" stroke="#333" stroke-width="0.8"/><path d="M386.9 316V322M385.7 319L386.9 321.2L388.09999999999997 319" stroke="#222" stroke-width="0.8"/><rect x="384.9" y="322" width="4" height="10.6" fill="#222" stroke="none"/><rect x="385.79999999999995" y="326.7" width="2.2" height="1.7" fill="#fff" stroke="none"/><circle cx="386.9" cy="324.5" r="1.05" fill="#fff" stroke="none"/><circle cx="386.9" cy="330.6" r="1.05" fill="#fff" stroke="none"/><path d="M385.7 332.6V335.8H388.09999999999997V332.6" fill="none" stroke="#333" stroke-width="0.8"/><path d="M392.4 316V322M391.2 319L392.4 321.2L393.59999999999997 319" stroke="#222" stroke-width="0.8"/><rect x="390.4" y="322" width="4" height="10.6" fill="#222" stroke="none"/><rect x="391.29999999999995" y="326.7" width="2.2" height="1.7" fill="#fff" stroke="none"/><circle cx="392.4" cy="324.5" r="1.05" fill="#fff" stroke="none"/><circle cx="392.4" cy="330.6" r="1.05" fill="#fff" stroke="none"/><path d="M391.2 332.6V335.8H393.59999999999997V332.6" fill="none" stroke="#333" stroke-width="0.8"/><path d="M383.5 327.5H384.9M388.9 327.5H390.4" stroke="#222" stroke-width="1.6"/><text x="381.5" y="341.4" text-anchor="middle" font-size="4.3" font-weight="bold" fill="#333" stroke="none">L</text><circle cx="386.9" cy="339.9" r="1.5" fill="#bbb" stroke="#555" stroke-width="0.6"/><path d="M385.9 339.9H387.9M386.9 339V340.8" stroke="#444" stroke-width="0.5"/><text x="392.4" y="341.4" text-anchor="middle" font-size="4.3" font-weight="bold" fill="#333" stroke="none">N</text><path d="M401.5 324.6C402.5 328.5 405.5 330.6 408 332.8C410 334.6 412 336.4 413.5 338M401 336.4C403 334.6 406 335 408 336.4C409.5 337.4 410.5 338.8 411.5 340" stroke="#333" stroke-width="0.8"/><path d="M409.8 342.2L412.4 339.2L421.2 343.2L419.2 346.4Z" fill="#fff" stroke="#222" stroke-width="0.8" stroke-linejoin="round"/><path d="M411.6 342L418.6 345" stroke="#222" stroke-width="1.1" stroke-dasharray="1.3 0.9"/><path d="M412.4 339.2L415.6 335.8L424.2 339.6L421.2 343.2Z" fill="#333" stroke="#222" stroke-width="0.8" stroke-linejoin="round"/><path d="M415 338.9L416.7 337.2L421.2 339.3L419.7 341.1Z" fill="#fff" stroke="none"/><path d="M417.2 338.1L418.4 340.4" stroke="#333" stroke-width="0.7"/><path d="M417.4 311.9V317.6" stroke="#111" stroke-width="1.8"/><path d="M417.4 317V337" stroke="#222" stroke-width="0.9"/><ellipse cx="417.4" cy="321.2" rx="2.2" ry="1.3" stroke="#333" stroke-width="0.7"/><path d="M412.3 321.5V328.6M411.2 326.5L412.3 329L413.4 326.5" stroke="#666" stroke-width="0.7"/><path d="M423.5 342.5C426 343 426.5 346 428 348C430 350 432.5 349 434.6 346.2" stroke="#222" stroke-width="0.9"/><ellipse cx="436.3" cy="329.9" rx="9.1" ry="6.6" fill="#fff" stroke="#222" stroke-width="0.9"/><ellipse cx="436.3" cy="328.2" rx="9.1" ry="6.5" fill="#fff" stroke="#222" stroke-width="0.9"/><ellipse cx="436.3" cy="328.4" rx="6.7" ry="4.6" stroke="#444" stroke-width="0.8"/><path d="M436.1 326.8C435.8 322 437.8 318.6 440.6 317C442.6 316 444.6 316.8 444.8 315.6" stroke="#222" stroke-width="1.1"/><path d="M440.2 311.8C439 313 439.5 315.6 441.5 315.8" stroke="#222" stroke-width="0.8"/><path d="M440 309.3L451.6 304L452.7 306.2L441.1 311.6Z" fill="#fff" stroke="#222" stroke-width="0.9"/><path d="M452 305C454.5 304.5 456 306 455.6 308.5L455.2 311.5" stroke="#222" stroke-width="0.9"/><path d="M455.1 311.3V313.6" stroke="#111" stroke-width="1.6"/><rect x="374.5" y="378.2" width="37.8" height="10" rx="2" fill="#fff" stroke="#333" stroke-width="0.9"/><rect x="376.8" y="381" width="10" height="4" fill="#555" stroke="#333" stroke-width="0.5"/><path d="M377 382.2H386.6M377 383.8H386.6" stroke="#ccc" stroke-width="0.5"/><rect x="387" y="381.2" width="5.4" height="3.5" fill="#fff" stroke="#222" stroke-width="0.9"/><path d="M392.7 383.1H406.8" stroke="#222" stroke-width="1.3"/><circle cx="409.4" cy="383.1" r="1.1" fill="#555" stroke="#222" stroke-width="0.5"/><circle cx="495.3" cy="405.9" r="6.6" stroke="#444" stroke-width="0.9"/><text x="495.3" y="409.29999999999995" text-anchor="middle" font-size="9.7" fill="#505050" stroke="none" textLength="10.4" lengthAdjust="spacingAndGlyphs">08</text></g>
<g id="c9"><path d="M229.1 432V440.5M247.9 431V440.5" stroke="#1f4a40" stroke-width="1.5"/><path d="M223.6 430.7L253.8 428.7L253.2 430.9L224 433.2Z" fill="#1c2a28" stroke="#1c2a28" stroke-width="0.5"/><path d="M227 431.8L231 431.5M235 431.2L238 431M242.5 430.7L245 430.5M248.5 430.3L251 430.1" stroke="#bbb" stroke-width="0.8"/><g transform="translate(-7.9 119)" stroke="#333" stroke-width="0.8"><path d="M167.8 354.3A14.0 3.03 0 0 1 195.8 354.3V364.3A14.0 3.7 0 0 1 167.8 364.3Z" fill="#fff" /><path d="M167.8 364.3A14.0 3.7 0 0 1 195.8 364.3" /><path d="M299.9 356.3A9.45 2.71 0 0 1 318.8 356.3V376.4A9.45 3.3 0 0 1 299.9 376.4Z" fill="#fff" /><path d="M299.9 376.4A9.45 3.3 0 0 1 318.8 376.4" /><path d="M255.1 377.2A12.4 2.71 0 0 1 279.9 377.2V386.5A12.4 3.3 0 0 1 255.1 386.5Z" fill="#fff" /><path d="M255.1 386.5A12.4 3.3 0 0 1 279.9 386.5" /><path d="M208 361L257.2 377.8L256.3 380.6L208 364Z" fill="#fff"/><rect x="255.7" y="329.8" width="3.3" height="50" fill="#fff" stroke="none"/><path d="M255.7 329.8V379.8H259"/><path d="M259 329.8V379.8" stroke="#888"/><rect x="196" y="358.7" width="47" height="2.4" fill="#fff" stroke="none"/><rect x="251.5" y="358.7" width="48" height="2.4" fill="#fff" stroke="none"/><path d="M196 358.7H243M196 361.1H243M251.5 358.7H299.8M251.5 361.1H299.8"/><path d="M238.9 390.3L268.8 373.4L270.2 375.8L240.4 392.8Z" fill="#fff"/><path d="M267.4 363.9A14.4 2.87 0 0 1 296.2 363.9V373.3A14.4 3.5 0 0 1 267.4 373.3Z" fill="#fff" /><path d="M267.4 373.3A14.4 3.5 0 0 1 296.2 373.3" /><path d="M192.0 357.3A9.1 2.62 0 0 1 210.2 357.3V378.0A9.1 3.2 0 0 1 192.0 378.0Z" fill="#fff" /><path d="M192.0 378.0A9.1 3.2 0 0 1 210.2 378.0" /><path d="M228.0 326.6A19.1 4.35 0 0 1 266.2 326.6V334.2A19.1 5.3 0 0 1 228.0 334.2Z" fill="#fff" /><path d="M228.0 334.2A19.1 5.3 0 0 1 266.2 334.2" /><rect x="255.7" y="330" width="3.3" height="12" fill="#fff" stroke="none"/><path d="M255.7 342V330.2H259"/><path d="M259 330.2V342" stroke="#888"/><rect x="245.9" y="330.4" width="2.9" height="24" fill="#fff" stroke="none"/><path d="M245.9 354.4V330.4H248.8"/><path d="M248.8 330.4V354.4" stroke="#888"/><rect x="234.3" y="336.3" width="3.2" height="33.6" fill="#fff"/><path d="M233.9 368.2H237.9V371.6L233.9 370.3Z" fill="#fff"/><rect x="245.2" y="354.2" width="4.2" height="3.5" fill="#fff"/><rect x="242.7" y="357.7" width="8.8" height="3.7" fill="#fff"/><circle cx="241.1" cy="336.3" r="0.8" fill="#111" stroke="none"/><circle cx="252.7" cy="332.9" r="0.8" fill="#111" stroke="none"/><path d="M228.2 390.9A9.5 2.62 0 0 1 247.2 390.9V408.4A9.5 3.2 0 0 1 228.2 408.4Z" fill="#fff" /><path d="M228.2 408.4A9.5 3.2 0 0 1 247.2 408.4" /><path d="M238.9 390.3L250 384L251.4 386.5L240.4 392.8" fill="#fff"/><circle cx="239.7" cy="391.6" r="1.5" fill="#fff" stroke="#222" stroke-width="0.9"/></g><path d="M271.7 454.9L274.2 457.8H272.9V462.9H270.5V457.8H269.2Z" fill="#fff" stroke="#444" stroke-width="0.75" stroke-linejoin="round"/><path d="M244.8 460.2V472.5" stroke="#555" stroke-width="0.9"/><rect x="242" y="466.1" width="5.5" height="2" fill="none" stroke="#333" stroke-width="0.9"/><circle cx="245.1" cy="455.7" r="0.85" fill="#111" stroke="none"/><circle cx="232.9" cy="461.6" r="0.6" fill="#222" stroke="none"/><circle cx="323.3" cy="537.2" r="6.6" stroke="#444" stroke-width="0.9"/><text x="323.3" y="540.6" text-anchor="middle" font-size="9.7" fill="#505050" stroke="none" textLength="10.4" lengthAdjust="spacingAndGlyphs">09</text></g>
<g id="c10"><g transform="translate(178.8 119)" stroke="#333" stroke-width="0.8"><path d="M167.8 354.3A14.0 3.03 0 0 1 195.8 354.3V364.3A14.0 3.7 0 0 1 167.8 364.3Z" fill="#fff" /><path d="M167.8 364.3A14.0 3.7 0 0 1 195.8 364.3" /><path d="M299.9 356.3A9.45 2.71 0 0 1 318.8 356.3V376.4A9.45 3.3 0 0 1 299.9 376.4Z" fill="#fff" /><path d="M299.9 376.4A9.45 3.3 0 0 1 318.8 376.4" /><path d="M255.1 377.2A12.4 2.71 0 0 1 279.9 377.2V386.5A12.4 3.3 0 0 1 255.1 386.5Z" fill="#fff" /><path d="M255.1 386.5A12.4 3.3 0 0 1 279.9 386.5" /><path d="M208 361L257.2 377.8L256.3 380.6L208 364Z" fill="#fff"/><rect x="255.7" y="329.8" width="3.3" height="50" fill="#fff" stroke="none"/><path d="M255.7 329.8V379.8H259"/><path d="M259 329.8V379.8" stroke="#888"/><rect x="196" y="358.7" width="47" height="2.4" fill="#fff" stroke="none"/><rect x="251.5" y="358.7" width="48" height="2.4" fill="#fff" stroke="none"/><path d="M196 358.7H243M196 361.1H243M251.5 358.7H299.8M251.5 361.1H299.8"/><path d="M238.9 390.3L268.8 373.4L270.2 375.8L240.4 392.8Z" fill="#fff"/><path d="M267.4 363.9A14.4 2.87 0 0 1 296.2 363.9V373.3A14.4 3.5 0 0 1 267.4 373.3Z" fill="#fff" /><path d="M267.4 373.3A14.4 3.5 0 0 1 296.2 373.3" /><path d="M192.0 357.3A9.1 2.62 0 0 1 210.2 357.3V378.0A9.1 3.2 0 0 1 192.0 378.0Z" fill="#fff" /><path d="M192.0 378.0A9.1 3.2 0 0 1 210.2 378.0" /><path d="M228.0 326.6A19.1 4.35 0 0 1 266.2 326.6V334.2A19.1 5.3 0 0 1 228.0 334.2Z" fill="#fff" /><path d="M228.0 334.2A19.1 5.3 0 0 1 266.2 334.2" /><rect x="255.7" y="330" width="3.3" height="12" fill="#fff" stroke="none"/><path d="M255.7 342V330.2H259"/><path d="M259 330.2V342" stroke="#888"/><rect x="245.9" y="330.4" width="2.9" height="24" fill="#fff" stroke="none"/><path d="M245.9 354.4V330.4H248.8"/><path d="M248.8 330.4V354.4" stroke="#888"/><rect x="234.3" y="336.3" width="3.2" height="33.6" fill="#fff"/><path d="M233.9 368.2H237.9V371.6L233.9 370.3Z" fill="#fff"/><rect x="245.2" y="354.2" width="4.2" height="3.5" fill="#fff"/><rect x="242.7" y="357.7" width="8.8" height="3.7" fill="#fff"/><circle cx="241.1" cy="336.3" r="0.8" fill="#111" stroke="none"/><circle cx="252.7" cy="332.9" r="0.8" fill="#111" stroke="none"/><path d="M228.2 390.9A9.5 2.62 0 0 1 247.2 390.9V408.4A9.5 3.2 0 0 1 228.2 408.4Z" fill="#fff" /><path d="M228.2 408.4A9.5 3.2 0 0 1 247.2 408.4" /><path d="M238.9 390.3L250 384L251.4 386.5L240.4 392.8" fill="#fff"/><circle cx="239.7" cy="391.6" r="1.5" fill="#fff" stroke="#222" stroke-width="0.9"/></g><circle cx="498.5" cy="538.5" r="6.6" stroke="#444" stroke-width="0.9"/><text x="498.5" y="541.9" text-anchor="middle" font-size="9.7" fill="#505050" stroke="none" textLength="10.4" lengthAdjust="spacingAndGlyphs">10</text></g>
</svg>
</body></html>
